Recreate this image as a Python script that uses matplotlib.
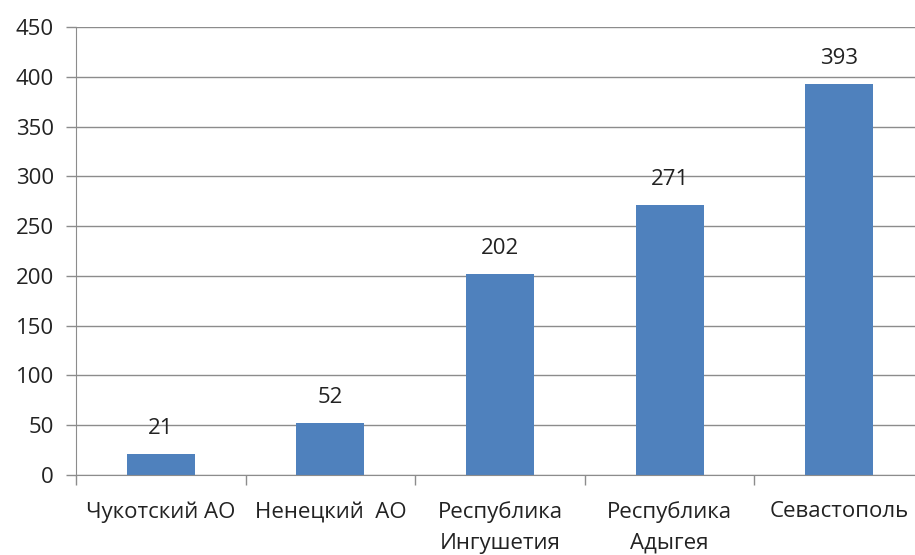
import numpy as np
import matplotlib
matplotlib.use("Agg")
from matplotlib import pyplot as plt

categories = ["Чукотский АО", "Ненецкий  АО", "Республика\nИнгушетия", "Республика\nАдыгея", "Севастополь"]
values = [21, 52, 202, 271, 393]
y_ticks = [0, 50, 100, 150, 200, 250, 300, 350, 400, 450]

plt.rcParams['font.family'] = ['Open Sans', 'DejaVu Sans']
grey = "#8c8c8c"
fs = 16

fig = plt.figure(figsize=(9.15, 5.55), dpi=100)
ax = fig.add_axes([76/915, 1 - 475/555, (924 - 76)/915, (475 - 27)/555])

x = np.arange(len(categories))
ax.bar(x, values, width=0.4, color="#4F81BD", zorder=3)
for xi, v in zip(x, values):
    ax.text(xi, v + 15, str(v), ha="center", va="bottom", fontsize=fs, color="#222222")

ax.set_xlim(-0.5, len(categories) - 0.5)
ax.set_ylim(0, 450)
ax.set_yticks(y_ticks)
ax.set_yticklabels([str(t) for t in y_ticks], fontsize=fs, color="#222222")
ax.grid(axis="y", color=grey, linewidth=1, zorder=0)

ax.set_xticks(x)
ax.set_xticklabels(categories, fontsize=fs, linespacing=1.6, va="top", color="#222222")
ax.tick_params(axis="x", which="major", length=0, pad=19)
ax.set_xticks(np.arange(-0.5, len(categories), 1), minor=True)
ax.tick_params(axis="x", which="minor", length=7, color=grey, width=1)
ax.tick_params(axis="y", length=7, color=grey, width=1, pad=9)

for s in ["top", "right"]:
    ax.spines[s].set_visible(False)
for s in ["left", "bottom"]:
    ax.spines[s].set_color(grey)
    ax.spines[s].set_zorder(4)

fig.savefig("out.png", dpi=100)
